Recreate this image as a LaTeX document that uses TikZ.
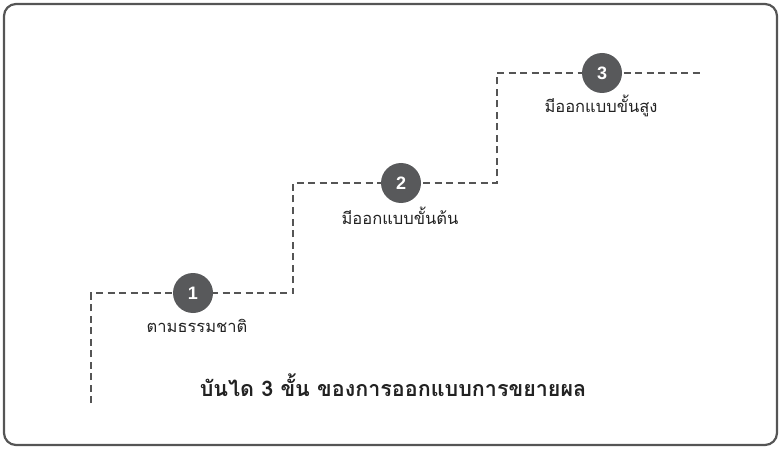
\documentclass[tikz,border=0pt]{standalone}
\usepackage{fontspec}
\newfontfamily\thai[Script=Thai]{Loma}
\newfontfamily\numfont{Liberation Sans}
\definecolor{frame}{HTML}{555555}
\definecolor{dot}{HTML}{58595B}
\definecolor{txt}{HTML}{222222}
\begin{document}
\begin{tikzpicture}[x=1pt,y=-1pt,
  stair/.style={draw=frame,line width=1.2pt,dash pattern=on 7pt off 4.5pt},
  stepnum/.style={circle,fill=dot,minimum size=40pt,inner sep=0pt,text=white,font=\numfont\bfseries\fontsize{18}{18}\selectfont},
  steplabel/.style={text=txt,font=\thai\fontsize{16.5}{20}\selectfont,inner sep=0pt},
  titlelabel/.style={text=txt,font=\thai\bfseries\fontsize{21.5}{26}\selectfont,inner sep=0pt}]
\useasboundingbox (0,0) rectangle (781,449);
\draw[frame,line width=2.2pt,rounded corners=12pt] (4,4) rectangle (777,445);
\coordinate (s0) at (91,403);
\coordinate (s1) at (91,293);
\coordinate (s2) at (293,293);
\coordinate (s3) at (293,183);
\coordinate (s4) at (497,183);
\coordinate (s5) at (497,73);
\coordinate (s6) at (703,73);
\draw[stair] (s0) -- (s1) -- (s2) -- (s3) -- (s4) -- (s5) -- (s6);
\node[stepnum] (n1) at (193,293) {1};
\node[stepnum] (n2) at (401,183) {2};
\node[stepnum] (n3) at (602,73) {3};
\node[steplabel] (l1) at (197,326) {ตามธรรมชาติ};
\node[steplabel] (l2) at (400,216) {มีออกแบบขั้นต้น};
\node[steplabel] (l3) at (601,106) {มีออกแบบขั้นสูง};
\node[titlelabel] (t) at (393,385) {บันได 3 ขั้น ของการออกแบบการขยายผล};
\end{tikzpicture}
\end{document}
